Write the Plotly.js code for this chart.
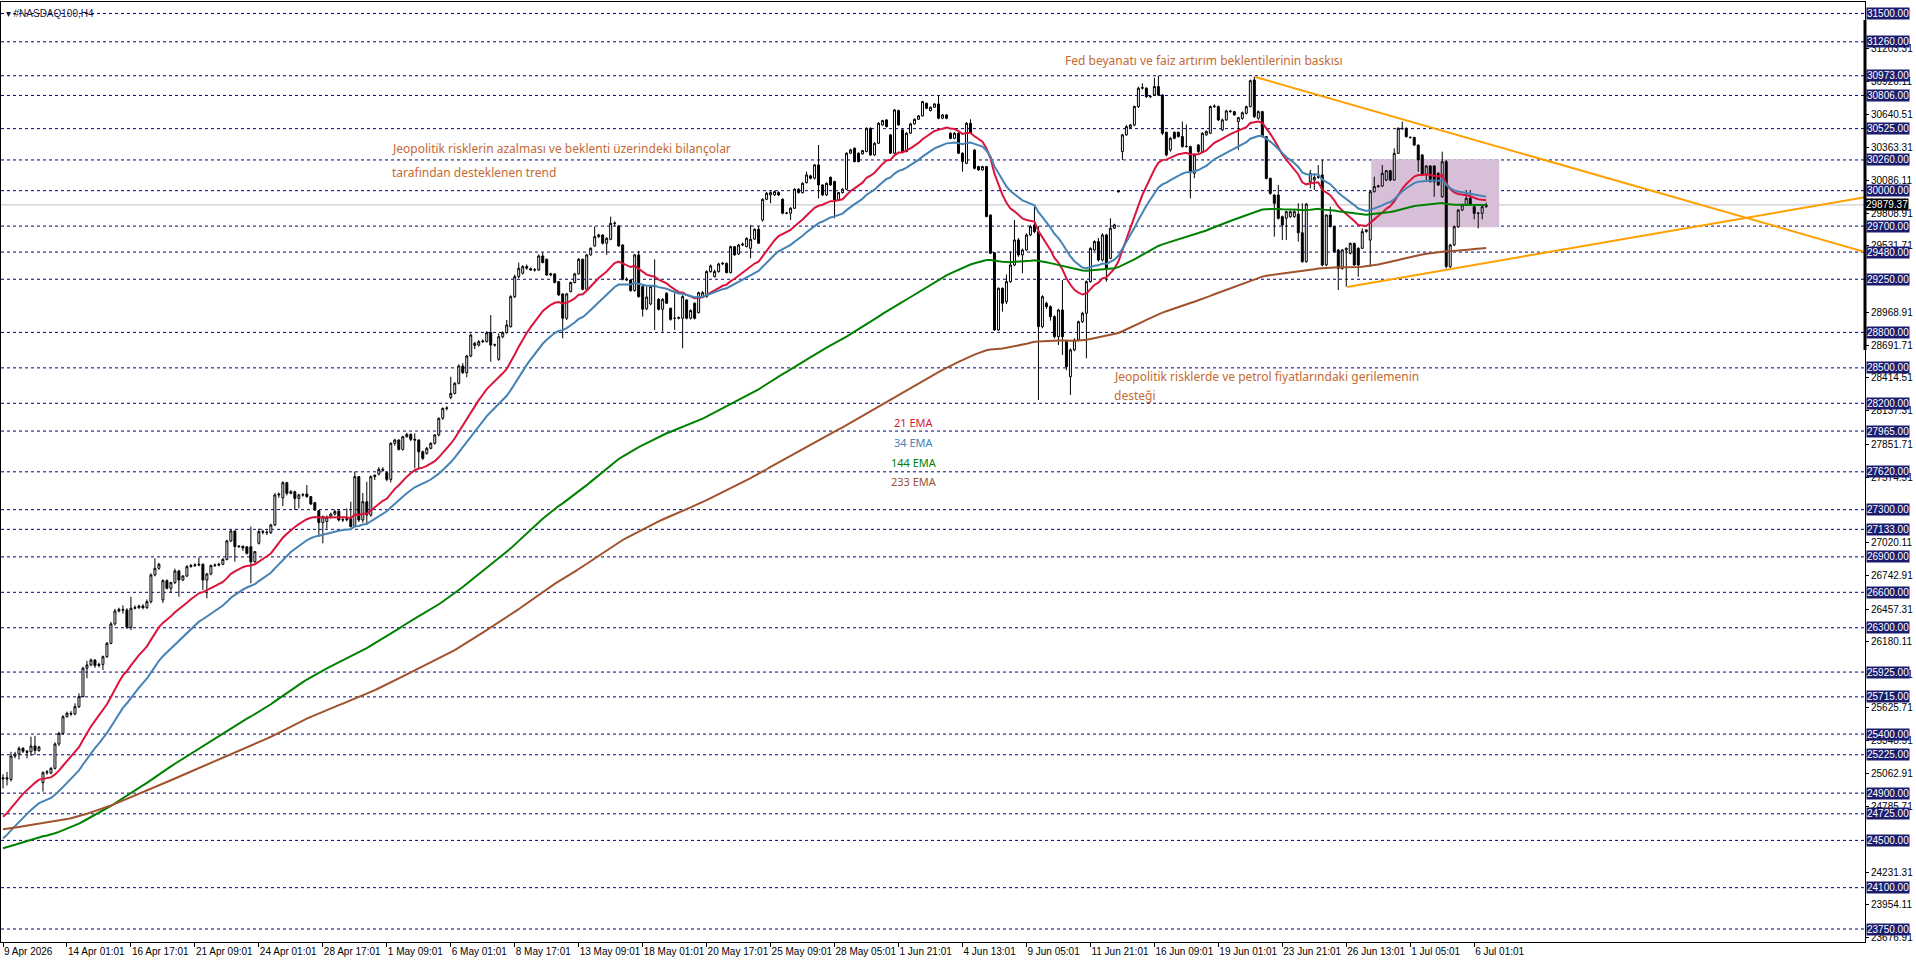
<!DOCTYPE html>
<html><head><meta charset="utf-8">
<script src="https://cdn.plot.ly/plotly-3.0.1.min.js"></script>
<style>html,body{margin:0;padding:0;background:#fff;overflow:hidden}#chart{width:1916px;height:963px}</style>
</head><body><div id="chart"></div>
<script>
// ---- H4 bars (bar index 0 = 9 Apr 2026) ----
const openP = [25020,25030,25015,25214,25231,25279,25255,25250,25299,25262,24990,25073,25070,25110,25316,25406,25547,25576,25570,25632,25717,25957,25985,26027,25980,25990,26055,26168,26332,26442,26455,26450,26304,26465,26470,26484,26470,26521,26747,26803,26535,26699,26634,26682,26781,26704,26738,26817,26826,26831,26837,26704,26755,26826,26830,26837,26879,27035,27119,26987,26990,26985,26986,26859,27015,27114,27110,27105,27170,27424,27400,27528,27438,27452,27395,27424,27432,27410,27359,27291,27190,27200,27235,27262,27285,27212,27215,27226,27156,27579,27212,27367,27254,27579,27600,27641,27613,27556,27861,27889,27810,27917,27937,27895,27889,27790,27776,27819,27861,27932,28073,28157,28250,28284,28369,28516,28459,28600,28690,28693,28722,28722,28798,28693,28572,28764,28798,28849,29103,29272,29301,29357,29340,29329,29329,29447,29419,29286,29295,29230,29126,28920,29145,29222,29295,29419,29165,29456,29532,29611,29625,29555,29588,29724,29701,29540,29250,29244,29154,29456,29188,29000,29041,29188,29080,28996,29131,29004,28920,28920,28920,29075,28920,29047,28968,29103,29103,29315,29272,29315,29380,29385,29306,29526,29464,29540,29526,29512,29590,29673,29752,29927,29964,29964,29984,29927,29809,29809,29851,30012,29984,30068,30125,30105,30218,30048,29964,30113,30077,29921,29984,30012,30317,30359,30317,30311,30331,30528,30302,30401,30556,30599,30472,30317,30678,30514,30331,30486,30565,30604,30633,30740,30678,30706,30734,30613,30641,30486,30443,30486,30317,30231,30570,30344,30204,30175,30204,29794,29475,28821,29174,29060,29230,29371,29583,29456,29498,29625,29710,29653,28849,29047,29018,28934,28764,28990,28722,28426,28652,28736,28891,28962,29230,29498,29569,29413,29625,29427,29682,29990,30331,30472,30534,30556,30712,30867,30867,30796,30810,30881,30810,30494,30345,30494,30494,30458,30373,30373,30147,30387,30331,30472,30486,30712,30712,30514,30599,30669,30669,30585,30612,30655,30711,30937,30612,30669,30457,30104,29963,29963,29780,29766,29780,29780,29802,29644,29399,30076,30090,30113,30133,29371,29794,29695,29498,29342,29498,29469,29554,29512,29512,29653,29582,29991,30034,30039,30090,30169,30090,30316,30528,30528,30451,30451,30386,30302,30133,30209,30209,30147,29949,30245,29357,29540,29695,29836,29879,29935,29864,29808,29808,29864];
const highP = [25060,25080,25250,25250,25295,25290,25265,25378,25385,25300,25085,25095,25120,25330,25420,25560,25590,25595,25660,25745,25970,26020,26040,26035,26005,26065,26180,26350,26460,26470,26490,26465,26563,26490,26495,26500,26540,26760,26888,26850,26710,26710,26690,26800,26790,26745,26830,26840,26845,26896,26845,26765,26835,26845,26850,26890,27045,27128,27125,27000,26995,26990,27156,26950,27140,27130,27125,27180,27440,27445,27540,27535,27465,27460,27435,27440,27508,27415,27365,27295,27250,27250,27275,27300,27300,27240,27310,27367,27621,27585,27440,27536,27590,27600,27660,27660,27620,27870,27900,27895,27925,27950,27945,27946,27895,27800,27830,27870,27940,28080,28165,28175,28425,28380,28530,28540,28610,28790,28720,28735,28740,28810,28947,28705,28793,28810,28905,29115,29290,29391,29370,29375,29350,29345,29460,29476,29425,29305,29300,29235,29130,29135,29230,29305,29430,29425,29465,29520,29696,29635,29630,29605,29780,29740,29710,29545,29265,29250,29465,29490,29195,29190,29200,29419,29090,29090,29140,29010,29131,28935,29115,29080,28995,29055,29145,29150,29325,29375,29330,29390,29395,29390,29535,29530,29550,29560,29605,29710,29680,29700,29935,29990,29995,30000,29995,29935,29820,29860,30020,30020,30070,30161,30135,30225,30387,30055,30070,30120,30085,29990,30020,30325,30355,30365,30325,30345,30535,30535,30410,30580,30600,30605,30480,30690,30685,30520,30495,30575,30612,30640,30760,30745,30712,30740,30802,30650,30648,30495,30495,30495,30325,30580,30604,30350,30210,30210,30210,29800,29480,29180,29180,29290,29484,29752,29600,29510,29640,29710,29865,29700,29115,29060,29030,28945,29000,29244,28730,28665,28750,28900,28975,29240,29520,29580,29600,29640,29635,29766,29720,30000,30480,30555,30565,30720,30880,30909,30875,30810,30957,30974,30815,30500,30455,30500,30500,30585,30560,30380,30310,30395,30495,30510,30720,30730,30720,30610,30685,30685,30675,30625,30670,30720,30940,30965,30680,30675,30460,30110,29970,30048,29790,29830,29830,29835,29893,29893,29895,30175,30147,30217,30260,29800,29864,29700,29505,29505,29520,29560,29560,29520,29681,29675,30000,30118,30050,30217,30175,30175,30358,30535,30584,30535,30460,30455,30390,30310,30215,30215,30215,30155,30330,30260,29550,29705,29845,29890,30006,30006,29870,29820,29870,29898];
const lowP = [24940,24965,25000,25195,25185,25240,25195,25215,25225,25250,24913,25055,25060,25100,25300,25395,25540,25555,25560,25620,25710,25872,25975,25960,25965,25943,26045,26160,26320,26430,26420,26290,26280,26455,26460,26455,26460,26505,26735,26790,26510,26625,26600,26670,26563,26695,26730,26810,26815,26820,26620,26549,26745,26815,26820,26830,26870,27025,26860,26975,26950,26920,26676,26850,27005,27090,27085,27095,27160,27400,27330,27420,27430,27297,27310,27410,27400,27340,27290,27071,27015,27140,27225,27250,27200,27195,27200,27150,27150,27195,27190,27170,27240,27550,27590,27620,27540,27530,27840,27800,27800,27910,27880,27649,27650,27720,27765,27810,27850,27920,28060,28140,28235,28275,28360,28450,28420,28590,28660,28680,28710,28715,28552,28680,28560,28750,28790,28840,29090,29260,29290,29330,29320,29315,29320,29385,29280,29275,29215,29110,28750,28905,29140,29215,29290,29155,29160,29450,29525,29600,29545,29456,29580,29700,29525,29240,29235,29145,29145,29095,28934,28990,29030,28821,28985,28807,29040,28900,28821,28910,28666,28910,28910,28910,28960,29095,29095,29305,29265,29305,29370,29300,29300,29450,29455,29530,29520,29428,29585,29550,29738,29920,29893,29955,29955,29800,29800,29752,29845,29975,29975,30060,30095,30095,29935,29955,29955,30040,29766,29915,29975,30005,30310,30240,30240,30305,30325,30295,30295,30395,30550,30535,30310,30310,30550,30325,30325,30480,30560,30598,30628,30690,30670,30700,30605,30605,30605,30435,30435,30310,30161,30225,30480,30180,30170,30170,29775,29465,28815,28815,28976,29040,29220,29360,29440,29301,29490,29615,29640,28228,28835,29000,28900,28750,28694,28609,28480,28271,28640,28725,28880,28581,29220,29490,29400,29400,29230,29420,29675,29985,30260,30465,30525,30545,30700,30855,30785,30785,30800,30800,30470,30290,30330,30435,30450,30365,30365,29935,30105,30320,30320,30465,30480,30700,30590,30505,30590,30660,30635,30345,30600,30645,30705,30615,30600,30450,30095,29965,29610,29755,29582,29582,29770,29770,29568,29390,29390,30020,30006,30100,29360,29360,29690,29475,29159,29330,29187,29460,29365,29272,29505,29645,29357,29985,30025,30030,30080,30080,30085,30310,30515,30450,30440,30380,30161,30125,30076,30070,29949,30040,29940,29342,29345,29530,29685,29830,29870,29870,29757,29681,29757,29855];
const closeP = [25030,25020,25214,25231,25279,25255,25245,25299,25262,25290,25073,25080,25110,25316,25406,25547,25576,25570,25632,25717,25957,25985,26027,25980,25990,26055,26168,26332,26442,26455,26450,26304,26465,26470,26484,26470,26521,26747,26803,26837,26699,26634,26682,26781,26704,26738,26817,26826,26831,26837,26704,26755,26826,26830,26837,26879,27035,27119,26987,26990,26975,26930,26859,26944,27114,27110,27105,27170,27424,27430,27528,27438,27452,27395,27424,27426,27410,27347,27297,27190,27240,27235,27262,27285,27212,27215,27225,27156,27579,27212,27367,27254,27579,27590,27641,27635,27556,27861,27889,27810,27917,27937,27895,27889,27790,27734,27819,27861,27932,28073,28157,28160,28284,28369,28516,28459,28600,28778,28708,28722,28727,28798,28693,28695,28764,28798,28863,29103,29272,29343,29357,29345,29329,29330,29447,29391,29286,29295,29222,29117,28920,29126,29222,29295,29419,29165,29456,29512,29611,29625,29555,29597,29724,29724,29532,29250,29245,29154,29456,29103,28996,29100,29188,29190,28996,29080,29047,28911,28920,28925,29103,28920,28985,28920,29137,29137,29315,29363,29315,29380,29385,29306,29526,29456,29540,29546,29597,29588,29673,29555,29927,29978,29984,29992,29964,29809,29810,29851,30012,29984,30062,30133,30105,30218,30048,29964,30062,30048,29921,29984,30012,30317,30345,30246,30246,30339,30528,30302,30401,30570,30593,30542,30317,30683,30556,30331,30486,30565,30604,30633,30754,30697,30706,30734,30613,30641,30613,30443,30486,30317,30246,30570,30486,30189,30175,30204,29780,29470,28821,29174,29047,29230,29371,29583,29456,29498,29625,29696,29653,28849,29103,29018,28934,28764,28990,28764,28510,28652,28736,28891,28962,29230,29512,29569,29413,29625,29343,29682,29710,29998,30472,30542,30556,30712,30867,30872,30796,30796,30881,30810,30486,30302,30443,30443,30458,30373,30375,30161,30302,30331,30486,30500,30712,30715,30599,30599,30675,30672,30641,30618,30660,30711,30931,30626,30669,30457,30104,29977,29893,29766,29709,29822,29822,29822,29644,29399,29887,30147,30113,30118,29371,29794,29695,29483,29342,29498,29512,29554,29371,29371,29653,29667,29991,30034,30039,30147,30169,30090,30316,30528,30525,30457,30450,30386,30260,30133,30209,30076,30076,30048,30245,29357,29540,29695,29836,29879,29935,29879,29808,29808,29864,29879];

// ---- axis labels ----
const xTickPositions = [0,16,32,48,64,80,96,112,128,144,160,176,192,208,224,240,256,272,288,304,320,336,352,368];
const xTickLabels = ["9 Apr 2026","14 Apr 01:01","16 Apr 17:01","21 Apr 09:01","24 Apr 01:01","28 Apr 17:01","1 May 09:01","6 May 01:01","8 May 17:01","13 May 09:01","18 May 01:01","20 May 17:01","25 May 09:01","28 May 05:01","1 Jun 21:01","4 Jun 13:01","9 Jun 05:01","11 Jun 21:01","16 Jun 09:01","19 Jun 01:01","23 Jun 21:01","26 Jun 13:01","1 Jul 05:01","6 Jul 01:01"];
const priceTicks = [23676.91,23954.11,24231.31,24785.71,25062.91,25348.51,25625.71,25902.91,26180.11,26457.31,26742.91,27020.11,27574.51,27851.71,28137.31,28414.51,28691.71,28968.91,29531.71,29808.91,30086.11,30363.31,30640.51,30926.11,31203.31];
const levelPrices = [31500,31260,30973,30806,30525,30260,30000,29700,29480,29250,28800,28500,28200,27965,27620,27300,27133,26900,26600,26300,25925,25715,25400,25225,24900,24725,24500,24100,23750];
const lastPrice = 29879.37;

// ---- indicators (EMA values at bar 0) ----
const emaPeriods = [21, 34, 144, 233];
const emaStartValues = [24701, 24518, 24433, 24594];
const emaNames = ["21 EMA","34 EMA","144 EMA","233 EMA"];

// ---- drawn objects ----
const upperTrendX = [313.25, 465.75], upperTrendY = [30962, 29481];
const lowerTrendX = [336.25, 465.75], lowerTrendY = [29185, 29945];
const boxRangeX = [342.25, 374.25], boxRangeY = [29690, 30266];

const notes = [
  {x: 96.75, y: 30353, text: "Jeopolitik risklerin azalması ve beklenti üzerindeki bilançolar"},
  {x: 96.75, y: 30150, text: "tarafından desteklenen trend"},
  {x: 265.25, y: 31106, text: "Fed beyanatı ve faiz artırım beklentilerinin baskısı"},
  {x: 277.5, y: 28423, text: "Jeopolitik risklerde ve petrol fiyatlarındaki gerilemenin"},
  {x: 277.5, y: 28262, text: "desteği"}
];
const emaLabelX = 227.75;
const emaLabelY = [28034, 27868, 27703, 27538];

// ---- build ----
const barIndex = closeP.map((_, i) => i);
function ema(vals, period, start) {
  const a = 2 / (period + 1); const out = []; let e = start;
  for (let i = 0; i < vals.length; i++) { if (i > 0) e = e + a * (vals[i] - e); out.push(e); }
  return out;
}
const emaColors = ["#dc143c", "#4682b4", "#008000", "#a0522d"];
const axisFont = {family: "Liberation Sans, Arial, sans-serif", size: 10, color: "#000"};
const noteFont = {family: "Noto Sans, Open Sans, sans-serif", size: 12, color: "#c46a34"};

const traces = [];
traces.push({
  type: "candlestick", x: barIndex, open: openP, high: highP, low: lowP, close: closeP,
  increasing: {line: {color: "#000", width: 1}, fillcolor: "#ffffff"},
  decreasing: {line: {color: "#000", width: 1}, fillcolor: "#000000"},
  whiskerwidth: 0, showlegend: false, hoverinfo: "skip"
});
emaPeriods.forEach((p, k) => {
  traces.push({type: "scatter", mode: "lines", x: barIndex, y: ema(closeP, p, emaStartValues[k]),
    line: {color: emaColors[k], width: 2}, showlegend: false, hoverinfo: "skip"});
});
traces.push({type: "scatter", mode: "lines", x: upperTrendX, y: upperTrendY, line: {color: "#ffa000", width: 2}, showlegend: false, hoverinfo: "skip"});
traces.push({type: "scatter", mode: "lines", x: lowerTrendX, y: lowerTrendY, line: {color: "#ffa000", width: 2}, showlegend: false, hoverinfo: "skip"});

const shapes = [];
shapes.push({type: "rect", xref: "x", yref: "y", x0: boxRangeX[0], x1: boxRangeX[1], y0: boxRangeY[0], y1: boxRangeY[1],
  fillcolor: "#d8bfd8", line: {width: 0}, layer: "below"});
levelPrices.forEach(v => shapes.push({type: "line", xref: "paper", x0: 0, x1: 1, yref: "y", y0: v, y1: v,
  line: {color: "#000080", width: 1, dash: "3px,3px"}, layer: "below"}));
shapes.push({type: "line", xref: "paper", x0: 0, x1: 1, yref: "y", y0: lastPrice, y1: lastPrice, line: {color: "#c0c0c0", width: 1}, layer: "below"});
shapes.push({type: "line", xref: "paper", x0: 1, x1: 1, yref: "y", y0: 28652, y1: 31445, line: {color: "#000", width: 3}});

const annotations = [];
levelPrices.forEach(v => annotations.push({xref: "paper", x: 1, xanchor: "left", xshift: 1, yref: "y", y: v, yanchor: "middle",
  text: v.toFixed(2), showarrow: false, bgcolor: "#1c1c6e", borderpad: 0,
  font: {family: axisFont.family, size: 10, color: "#ffffff"}}));
annotations.push({xref: "paper", x: 1, xanchor: "left", xshift: 0, yref: "y", y: lastPrice, yanchor: "middle",
  text: lastPrice.toFixed(2), showarrow: false, bgcolor: "#000000", borderpad: 0,
  font: {family: axisFont.family, size: 10, color: "#ffffff"}});
notes.forEach(n => annotations.push({xref: "x", yref: "y", x: n.x, y: n.y, xanchor: "left", yanchor: "middle",
  text: n.text, showarrow: false, font: noteFont}));
emaNames.forEach((t, k) => annotations.push({xref: "x", yref: "y", x: emaLabelX, y: emaLabelY[k], xanchor: "center", yanchor: "middle",
  text: t, showarrow: false, font: {family: noteFont.family, size: 11, color: emaColors[k]}}));

const layout = {
  width: 1916, height: 963,
  margin: {l: 1, r: 51, t: 2, b: 21, pad: 0},
  paper_bgcolor: "#ffffff", plot_bgcolor: "#ffffff",
  title: {text: "▾ #NASDAQ100,H4", x: 0.003, xref: "container", xanchor: "left", y: 0.9865, yref: "container", yanchor: "middle",
    font: {family: axisFont.family, size: 10, color: "#1a1a3a"}},
  showlegend: false, hovermode: false, dragmode: false,
  xaxis: {range: [-0.5, 465.75], showgrid: false, zeroline: false, showline: true, mirror: true, linecolor: "#000", linewidth: 1,
    ticks: "outside", ticklen: 4, tickcolor: "#000", tickvals: xTickPositions, ticktext: xTickLabels, tickangle: 0,
    ticklabelposition: "outside right", tickfont: axisFont, rangeslider: {visible: false}, fixedrange: true},
  yaxis: {side: "right", range: [23640, 31597], showgrid: false, zeroline: false, showline: true, mirror: true, linecolor: "#000", linewidth: 1,
    ticks: "outside", ticklen: 3, tickcolor: "#000", tickvals: priceTicks, ticktext: priceTicks.map(v => v.toFixed(2)),
    tickfont: axisFont, fixedrange: true},
  shapes: shapes, annotations: annotations
};
Plotly.newPlot("chart", traces, layout, {staticPlot: true, displayModeBar: false});
</script></body></html>
